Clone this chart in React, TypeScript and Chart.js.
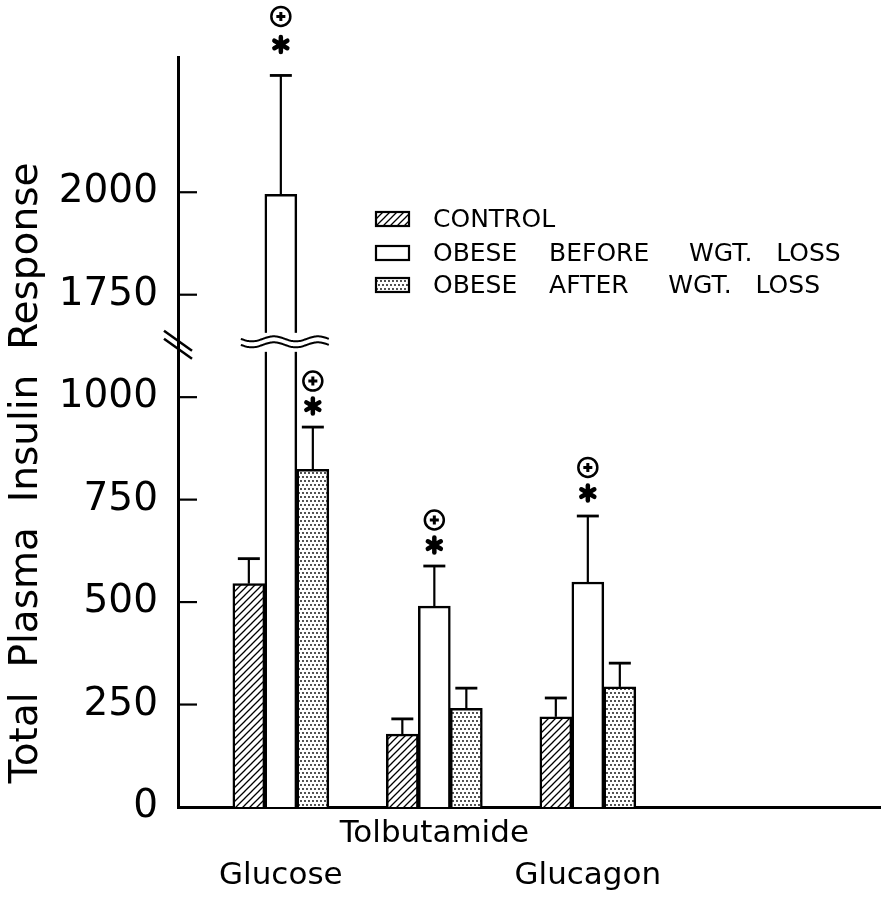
import { useEffect, useRef } from "react";
import { Chart, registerables } from "chart.js";

Chart.register(...registerables);

// ---------- data ----------
const categories = ["Glucose", "Tolbutamide", "Glucagon"];
const categoryPos = [1, 2, 3];
const labelRow = [1, 0, 1];

const seriesNames = [
  "CONTROL",
  "OBESE    BEFORE     WGT.   LOSS",
  "OBESE    AFTER     WGT.   LOSS",
];

const controlMean = [545, 178, 220];
const controlSE = [61, 37, 46];
const beforeMean = [1995, 490, 549];
const beforeSE = [290, 98, 161];
const afterMean = [824, 241, 293];
const afterSE = [103, 49, 58];

// significance markers: asterisk and circled plus
const controlStar = [false, false, false];
const controlPlus = [false, false, false];
const beforeStar = [true, true, true];
const beforePlus = [true, true, true];
const afterStar = [true, false, false];
const afterPlus = [true, false, false];

const yTickValues = [0, 250, 500, 750, 1000, 1750, 2000];
const yTopReal = 2330;
const axisTitle = "Total  Plasma  Insulin  Response";

// broken axis: real values above the break are shifted down by SKIP
const BREAK_DISPLAY = 1135;
const SKIP = 500;
const toDisplay = (v: number) => (v > BREAK_DISPLAY + SKIP ? v - SKIP : v);

const FONT = "DejaVu Sans";

function makeHatch(): CanvasPattern | string {
  const c = document.createElement("canvas");
  c.width = 7;
  c.height = 7;
  const g = c.getContext("2d")!;
  g.fillStyle = "#fff";
  g.fillRect(0, 0, 7, 7);
  g.strokeStyle = "#000";
  g.lineWidth = 1.3;
  g.beginPath();
  g.moveTo(-1, 8);
  g.lineTo(8, -1);
  g.moveTo(-4.5, 4.5);
  g.lineTo(4.5, -4.5);
  g.moveTo(2.5, 11.5);
  g.lineTo(11.5, 2.5);
  g.stroke();
  return g.createPattern(c, "repeat") || "#ccc";
}

function makeDots(): CanvasPattern | string {
  const c = document.createElement("canvas");
  c.width = 8;
  c.height = 8;
  const g = c.getContext("2d")!;
  g.fillStyle = "#fff";
  g.fillRect(0, 0, 8, 8);
  g.fillStyle = "#000";
  const pts = [
    [1, 1],
    [5, 1],
    [3, 5],
    [7, 5],
  ];
  pts.forEach(([x, y]) => {
    g.beginPath();
    g.arc(x, y, 0.9, 0, Math.PI * 2);
    g.fill();
  });
  return g.createPattern(c, "repeat") || "#ddd";
}

function drawStar(ctx: CanvasRenderingContext2D, x: number, y: number) {
  ctx.save();
  ctx.strokeStyle = "#000";
  ctx.fillStyle = "#000";
  ctx.lineWidth = 4.5;
  ctx.lineCap = "round";
  const r = 7.5;
  for (let k = 0; k < 3; k++) {
    const a = Math.PI / 2 + (k * Math.PI) / 3;
    ctx.beginPath();
    ctx.moveTo(x - r * Math.cos(a), y - r * Math.sin(a));
    ctx.lineTo(x + r * Math.cos(a), y + r * Math.sin(a));
    ctx.stroke();
  }
  ctx.beginPath();
  ctx.arc(x, y, 4.5, 0, Math.PI * 2);
  ctx.fill();
  ctx.restore();
}

function drawCirclePlus(ctx: CanvasRenderingContext2D, x: number, y: number) {
  ctx.save();
  ctx.strokeStyle = "#000";
  ctx.lineWidth = 2.5;
  ctx.beginPath();
  ctx.arc(x, y, 9.5, 0, Math.PI * 2);
  ctx.stroke();
  ctx.lineWidth = 3;
  ctx.beginPath();
  ctx.moveTo(x - 4.5, y);
  ctx.lineTo(x + 4.5, y);
  ctx.moveTo(x, y - 4.5);
  ctx.lineTo(x, y + 4.5);
  ctx.stroke();
  ctx.restore();
}

export default function App() {
  const ref = useRef<HTMLCanvasElement | null>(null);

  useEffect(() => {
    document.body.style.margin = "0";
    document.body.style.background = "#fff";
    const canvas = ref.current;
    if (!canvas) return;

    const hatch = makeHatch();
    const dots = makeDots();
    const fills = [hatch, "#fff", dots];

    const series = [
      { mean: controlMean, se: controlSE, star: controlStar, plus: controlPlus },
      { mean: beforeMean, se: beforeSE, star: beforeStar, plus: beforePlus },
      { mean: afterMean, se: afterSE, star: afterStar, plus: afterPlus },
    ];
    // extra lift (px) of markers above the error cap, per series/category
    const markerLift = [
      [0, 0, 0],
      [10, 0, 2],
      [0, 0, 0],
    ];

    const decor = {
      id: "decor",
      afterDatasetsDraw(chart: any) {
        const ctx: CanvasRenderingContext2D = chart.ctx;
        const ys = chart.scales.y;
        // axis break on the tall bar
        const yb = ys.getPixelForValue(BREAK_DISPLAY);
        series.forEach((s, di) => {
          const meta = chart.getDatasetMeta(di);
          meta.data.forEach((bar: any, i: number) => {
            if (s.mean[i] > BREAK_DISPLAY + SKIP) {
              const w = bar.width;
              ctx.save();
              ctx.fillStyle = "#fff";
              ctx.fillRect(bar.x - w / 2 - 3, yb - 9, w + 6, 19);
              ctx.strokeStyle = "#000";
              ctx.lineWidth = 2;
              [-3, 3].forEach((dy) => {
                ctx.beginPath();
                const x0 = bar.x - 40;
                const x1 = bar.x + 48;
                for (let x = x0; x <= x1; x += 1) {
                  const yy = yb + dy + 2.5 * Math.sin(((x - x0) / 44) * Math.PI * 2);
                  if (x === x0) ctx.moveTo(x, yy);
                  else ctx.lineTo(x, yy);
                }
                ctx.stroke();
              });
              ctx.restore();
            }
          });
        });
        // error bars and markers
        series.forEach((s, di) => {
          const meta = chart.getDatasetMeta(di);
          meta.data.forEach((bar: any, i: number) => {
            const top = ys.getPixelForValue(toDisplay(s.mean[i] + s.se[i]));
            ctx.save();
            ctx.strokeStyle = "#000";
            ctx.lineWidth = 2.2;
            ctx.beginPath();
            ctx.moveTo(bar.x, bar.y);
            ctx.lineTo(bar.x, top);
            ctx.stroke();
            ctx.lineWidth = 2.8;
            ctx.beginPath();
            ctx.moveTo(bar.x - 11, top);
            ctx.lineTo(bar.x + 11, top);
            ctx.stroke();
            ctx.restore();
            const lift = markerLift[di][i];
            if (s.star[i]) drawStar(ctx, bar.x, top - 21 - lift);
            if (s.plus[i]) drawCirclePlus(ctx, bar.x, top - 46 - lift * 1.3);
          });
        });
      },
      afterDraw(chart: any) {
        const ctx: CanvasRenderingContext2D = chart.ctx;
        const ys = chart.scales.y;
        const left = chart.chartArea.left;
        ctx.save();
        ctx.strokeStyle = "#000";
        // inward tick marks
        ctx.lineWidth = 2.2;
        ys.ticks.forEach((t: any) => {
          if (t.value === 0) return;
          const py = ys.getPixelForValue(t.value);
          ctx.beginPath();
          ctx.moveTo(left, py);
          ctx.lineTo(left + 19, py);
          ctx.stroke();
        });
        // axis break slashes
        const yb = ys.getPixelForValue(BREAK_DISPLAY) + 3;
        ctx.lineWidth = 2.5;
        [-4, 4].forEach((dy) => {
          ctx.beginPath();
          ctx.moveTo(left - 14, yb + dy - 10);
          ctx.lineTo(left + 14, yb + dy + 10);
          ctx.stroke();
        });
        // legend
        const rows = [219, 253, 285];
        ctx.font = `25px "${FONT}"`;
        ctx.textBaseline = "middle";
        ctx.textAlign = "left";
        ctx.fillStyle = "#000";
        rows.forEach((ry, k) => {
          ctx.fillStyle = fills[k] as any;
          ctx.fillRect(376, ry - 7, 33, 14);
          ctx.lineWidth = 2.2;
          ctx.strokeRect(376, ry - 7, 33, 14);
          ctx.fillStyle = "#000";
          ctx.fillText(seriesNames[k], 433, ry + 1);
        });
        // y-axis title
        ctx.translate(27, 473);
        ctx.rotate(-Math.PI / 2);
        ctx.textAlign = "center";
        ctx.font = `39px "${FONT}"`;
        ctx.fillText(axisTitle, 0, 0);
        ctx.restore();
      },
    };

    const makeData = (mean: number[]) =>
      categoryPos.map((x, i) => ({ x, y: toDisplay(mean[i]) }));

    const chart = new Chart(canvas, {
      type: "bar",
      data: {
        datasets: [controlMean, beforeMean, afterMean].map((m, k) => ({
          label: seriesNames[k],
          data: makeData(m) as any,
          backgroundColor: fills[k] as any,
          borderColor: "#000",
          borderWidth: 2.5,
          barThickness: 32,
        })),
      },
      options: {
        responsive: false,
        animation: false,
        layout: { padding: { top: 57, left: 0, right: 0, bottom: 0 } },
        plugins: {
          legend: { display: false },
          tooltip: { enabled: false },
        },
        scales: {
          x: {
            type: "linear",
            min: 0.33,
            max: 4.91,
            offset: false,
            grid: { display: false, drawTicks: false },
            border: { display: true, width: 3, color: "#000" },
            afterBuildTicks: (scale: any) => {
              scale.ticks = categoryPos.map((v) => ({ value: v }));
            },
            afterFit: (scale: any) => {
              scale.height = 94;
            },
            ticks: {
              autoSkip: false,
              maxRotation: 0,
              minRotation: 0,
              padding: 6,
              color: "#000",
              font: { family: FONT, size: 31, lineHeight: 42 / 31 },
              callback: (value: any) => {
                const i = categoryPos.indexOf(Number(value));
                if (i < 0) return "";
                return labelRow[i] === 0 ? [categories[i]] : ["", categories[i]];
              },
            },
          },
          y: {
            type: "linear",
            min: 0,
            max: toDisplay(yTopReal),
            grid: { display: false, drawTicks: false },
            border: { display: true, width: 3, color: "#000" },
            afterBuildTicks: (scale: any) => {
              scale.ticks = yTickValues.map((v) => ({ value: toDisplay(v) }));
            },
            afterFit: (scale: any) => {
              scale.width = 178;
            },
            ticks: {
              autoSkip: false,
              padding: 20,
              color: "#000",
              font: { family: FONT, size: 39 },
              callback: (value: any) => {
                const idx = yTickValues.findIndex((v) => toDisplay(v) === Number(value));
                return idx >= 0 ? String(yTickValues[idx]) : "";
              },
            },
          },
        },
      },
      plugins: [decor as any],
    });

    return () => chart.destroy();
  }, []);

  return (
    <div style={{ width: 881, height: 901, position: "relative", background: "#fff" }}>
      <canvas ref={ref} width={881} height={901} />
    </div>
  );
}
